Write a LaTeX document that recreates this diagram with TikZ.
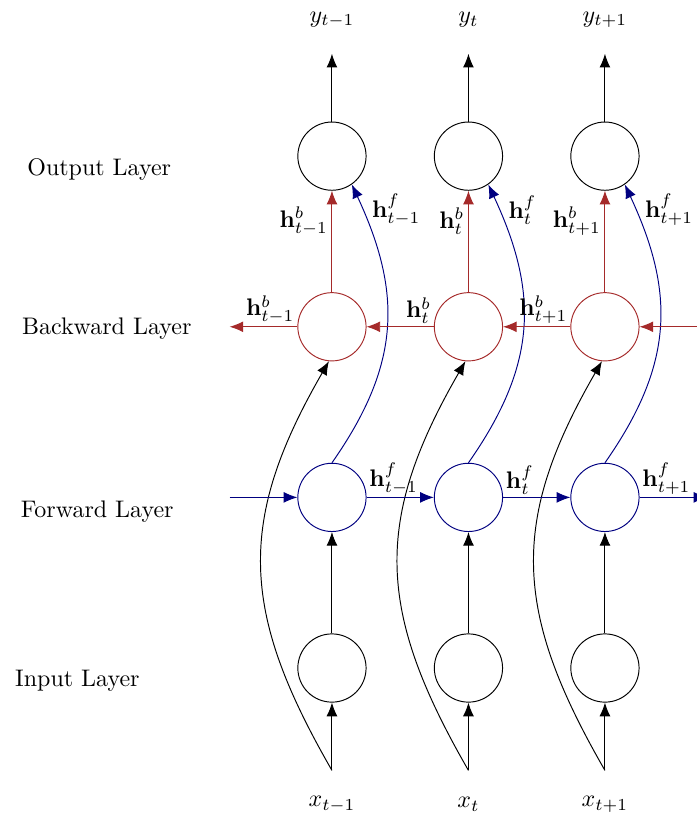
\documentclass[tikz,border=0pt]{standalone}
\usepackage{amsmath,amssymb,bm}
\usepackage{xcolor}
\usepackage{tikz}
\usetikzlibrary{arrows.meta,calc,positioning}
\definecolor{FwdBlue}{HTML}{000080}
\definecolor{BwdRed}{HTML}{A52A2A}

\begin{document}
\begin{tikzpicture}[>={Latex[length=2mm,width=1.6mm]},
  unit/.style={circle,draw,minimum size=1cm,inner sep=0pt},
  fwunit/.style={unit,draw=FwdBlue},
  bwunit/.style={unit,draw=BwdRed},
  fwlink/.style={->,FwdBlue},
  bwlink/.style={->,BwdRed}]
\useasboundingbox (-4.864,-2.139) rectangle (5.348,9.788);

% Layer names.
\node (inname) at (-3.73,-0.19) {Input Layer};
\node (fwname) at (-3.44,2.29) {Forward Layer};
\node (bwname) at (-3.30,4.98) {Backward Layer};
\node (outname) at (-3.41,7.31) {Output Layer};

% One column per time step.
\foreach \x/\i/\s in {0/1/{t-1},2/2/t,4/3/{t+1}} {
  \node[unit] (in\i) at (\x,0) {};
  \node[fwunit] (fw\i) at (\x,2.5) {};
  \node[bwunit] (bw\i) at (\x,5) {};
  \node[unit] (out\i) at (\x,7.5) {};
  \coordinate (xs\i) at (\x,-1.5);
  \coordinate (ys\i) at (\x,9);
  \node (xl\i) at (\x,-2) {$x_{\s}$};
  \node (yl\i) at (\x,9.5) {$y_{\s}$};

  \draw[->] (xs\i)--(in\i);
  \draw[->] (in\i)--(fw\i);
  \draw[->] (out\i)--(ys\i);
  \draw[->] (xs\i) to[out=120,in=240,looseness=1.15] (bw\i.-95);
  \draw[bwlink] (bw\i)--(out\i)
    node[pos=0.7,left,inner sep=1.5pt,black] {$\mathbf{h}^b_{\s}$};
  \draw[fwlink] (fw\i.north) to[out=55,in=-65,looseness=1.1] (out\i.-55);
  \node[anchor=west,inner sep=0pt] at ($(out\i)+(0.58,-0.79)$) {$\mathbf{h}^f_{\s}$};
}

% Recurrent links between time steps.
\foreach \i/\j/\s/\r in {1/2/{t-1}/t,2/3/t/{t+1}} {
  \draw[fwlink] (fw\i)--(fw\j)
    node[pos=0,anchor=south west,inner sep=1pt,black] {$\mathbf{h}^f_{\s}$};
  \draw[bwlink] (bw\j)--(bw\i)
    node[pos=0,anchor=south east,inner sep=1pt,black] {$\mathbf{h}^b_{\r}$};
}

\coordinate (fwin) at (-1.5,2.5);
\coordinate (fwout) at (5.5,2.5);
\coordinate (bwin) at (5.5,5);
\coordinate (bwout) at (-1.5,5);
\draw[fwlink] (fwin)--(fw1);
\draw[fwlink] (fw3)--(fwout)
  node[pos=0,anchor=south west,inner sep=1pt,black] {$\mathbf{h}^f_{t+1}$};
\draw[bwlink] (bwin)--(bw3);
\draw[bwlink] (bw1)--(bwout)
  node[pos=0,anchor=south east,inner sep=1pt,black] {$\mathbf{h}^b_{t-1}$};
\end{tikzpicture}
\end{document}
